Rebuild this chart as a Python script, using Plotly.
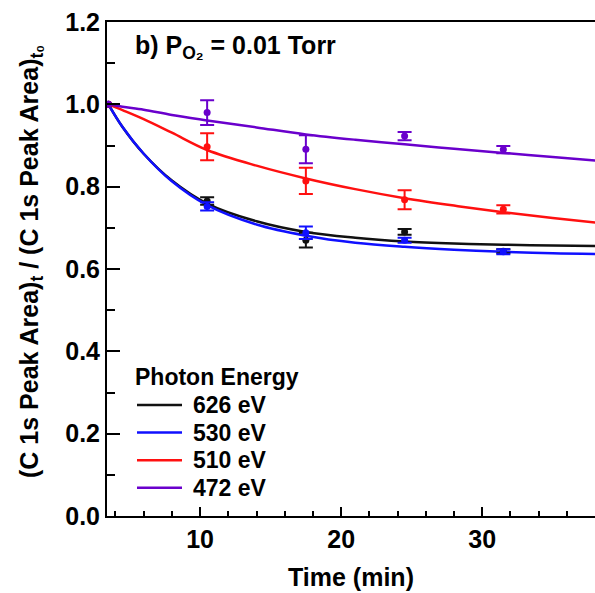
import plotly.graph_objects as go

# ---- data ----
series_names = ["626 eV", "530 eV", "510 eV", "472 eV"]
series_colors = ["#111111", "#1010ff", "#ff1010", "#6a00cc"]
legend_title = "Photon Energy"

time_pts = [3.5, 10.5, 17.5, 24.5, 31.5]
y_626 = [1.0, 0.765, 0.670, 0.690, 0.643]
e_626 = [0.0, 0.009, 0.018, 0.007, 0.005]
y_530 = [1.0, 0.752, 0.688, 0.670, 0.642]
e_530 = [0.0, 0.010, 0.015, 0.006, 0.006]
y_510 = [1.0, 0.897, 0.814, 0.768, 0.745]
e_510 = [0.0, 0.033, 0.032, 0.023, 0.010]
y_472 = [1.0, 0.980, 0.891, 0.923, 0.890]
e_472 = [0.0, 0.030, 0.034, 0.010, 0.009]

fit_t = [3.5, 4.5, 6, 8, 10.5, 14, 17.5, 21, 24.5, 28, 31.5, 35, 38.5]
fit_626 = [1.0, 0.945, 0.880, 0.815, 0.759, 0.716, 0.690, 0.676, 0.667, 0.662, 0.659, 0.657, 0.656]
fit_530 = [1.0, 0.945, 0.880, 0.813, 0.755, 0.708, 0.681, 0.664, 0.654, 0.647, 0.642, 0.638, 0.636]
fit_510 = [1.0, 0.986, 0.964, 0.931, 0.889, 0.851, 0.820, 0.794, 0.772, 0.754, 0.738, 0.724, 0.711]
fit_472 = [1.0, 0.994, 0.987, 0.974, 0.961, 0.944, 0.927, 0.914, 0.903, 0.892, 0.882, 0.872, 0.862]

x_ticks = [10, 20, 30]
y_ticks = [0.0, 0.2, 0.4, 0.6, 0.8, 1.0, 1.2]

points = [y_626, y_530, y_510, y_472]
errors = [e_626, e_530, e_510, e_472]
fits = [fit_626, fit_530, fit_510, fit_472]

FONT = "Liberation Sans, Arial, sans-serif"
W, H = 595, 593
ML, MR, MT, MB = 107, 0, 22, 77
PW, PH = W - ML - MR, H - MT - MB


def px_x(px):
    return (px - ML) / PW


def px_y(py):
    return (H - MB - py) / PH


fig = go.Figure()

for name, col, fy in zip(series_names, series_colors, fits):
    fig.add_trace(go.Scatter(
        x=fit_t, y=fy, mode="lines", name=name, showlegend=False,
        line=dict(color=col, width=2.5, shape="spline"),
    ))

for name, col, py, pe in zip(series_names, series_colors, points, errors):
    fig.add_trace(go.Scatter(
        x=time_pts, y=py, mode="markers", name=name, showlegend=False,
        marker=dict(color=col, size=7),
        error_y=dict(type="data", array=pe, color=col, thickness=2, width=7, visible=True),
    ))

fig.update_layout(
    width=W, height=H,
    margin=dict(l=ML, r=MR, t=MT, b=MB),
    paper_bgcolor="white", plot_bgcolor="white",
    font=dict(family=FONT, size=25, color="black", weight="bold"),
    showlegend=False,
)

fig.update_xaxes(
    range=[3.4, 38.0], tickvals=x_ticks, ticks="inside", ticklen=9, tickwidth=2,
    tickcolor="black", showline=True, linewidth=2, linecolor="black", mirror=True,
    showgrid=False, zeroline=False,
    tickfont=dict(size=25, weight="bold"),
    minor=dict(dtick=2, tick0=0, ticks="inside", ticklen=5, tickwidth=2, tickcolor="black"),
    title=dict(text="Time (min)", font=dict(size=25, weight="bold"), standoff=16),
)
fig.update_yaxes(
    range=[0, 1.2], tickvals=y_ticks, tickformat=".1f", ticks="inside", ticklen=13, tickwidth=2,
    tickcolor="black", showline=True, linewidth=2, linecolor="black", mirror=False,
    showgrid=False, zeroline=False,
    tickfont=dict(size=25, weight="bold"),
    minor=dict(dtick=0.1, tick0=0, ticks="inside", ticklen=8, tickwidth=2, tickcolor="black"),
)

fig.add_annotation(
    text="(C 1s Peak Area)<sub>t</sub> / (C 1s Peak Area)<sub>t₀</sub>",
    xref="paper", yref="paper", x=px_x(31), y=px_y(262), xanchor="center", yanchor="middle",
    textangle=-90, showarrow=False, font=dict(size=25, weight="bold"),
)
fig.add_annotation(
    text="b) P<sub>O₂</sub> = 0.01 Torr",
    xref="paper", yref="paper", x=px_x(133), y=px_y(47), xanchor="left", yanchor="middle",
    showarrow=False, font=dict(size=25, weight="bold"),
)

# ---- legend drawn by hand (longer line samples, tighter rows as in reference) ----
fig.add_annotation(
    text=legend_title, xref="paper", yref="paper", x=px_x(133), y=px_y(377),
    xanchor="left", yanchor="middle", showarrow=False, font=dict(size=23, weight="bold"),
)
row0, row_gap = 405, 27.6
for i, (name, col) in enumerate(zip(series_names, series_colors)):
    yy = px_y(row0 + i * row_gap)
    fig.add_shape(type="line", xref="paper", yref="paper",
                  x0=px_x(137), x1=px_x(182), y0=yy, y1=yy,
                  line=dict(color=col, width=2.5))
    fig.add_annotation(
        text=name, xref="paper", yref="paper", x=px_x(191), y=yy,
        xanchor="left", yanchor="middle", showarrow=False, font=dict(size=23, weight="bold"),
    )

fig.write_html("out.html")
